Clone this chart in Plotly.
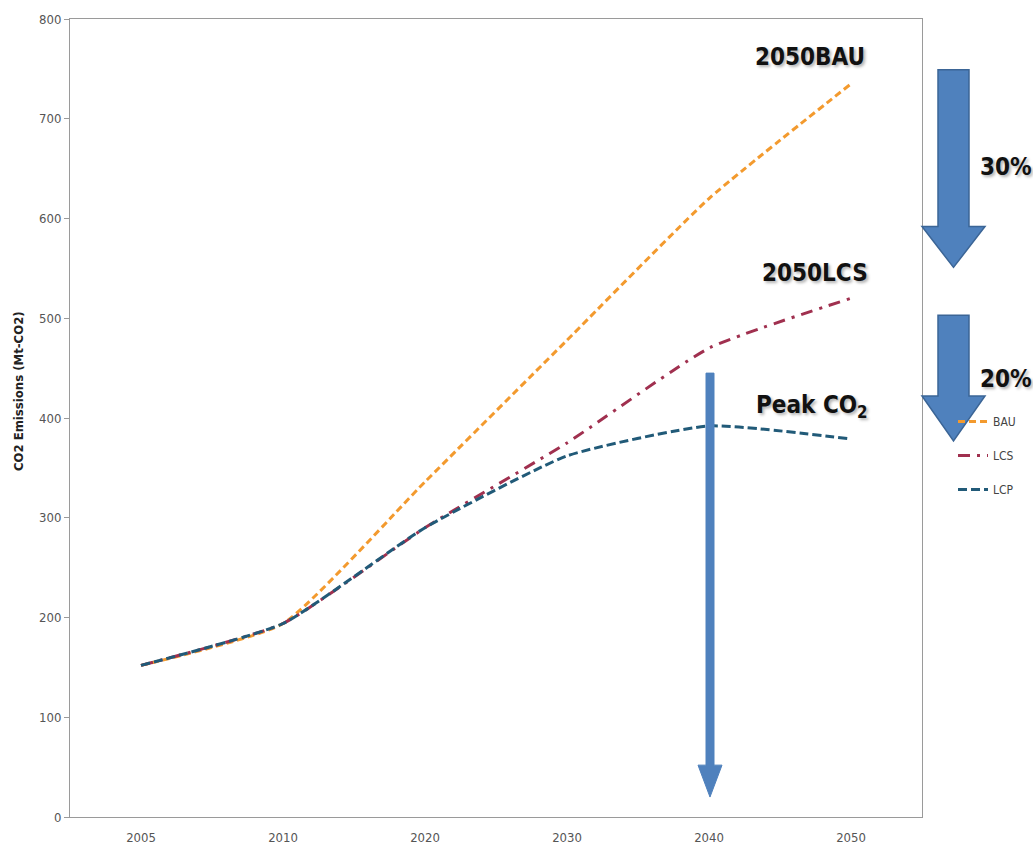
import plotly.graph_objects as go

# Emission pathways (Mt-CO2)
years = ["2005", "2010", "2020", "2030", "2040", "2050"]
bau = [152, 194, 336, 478, 620, 735]
lcs = [152, 194, 290, 375, 470, 520]
lcp = [152, 194, 290, 362, 392, 379]

W, H = 1033, 857
L, R, T, B = 70, 111, 17, 40
PW, PH = W - L - R, H - T - B


def xp(px):
    return (px - L) / PW


def yp(py):
    return (H - B - py) / PH


def path(points):
    return "M " + " L ".join(f"{xp(x):.5f},{yp(y):.5f}" for x, y in points) + " Z"


fig = go.Figure()
series = [
    ("BAU", bau, "#F39A2E", "7px,4px"),
    ("LCS", lcs, "#A0304F", "12px,7px,3px,7px"),
    ("LCP", lcp, "#215A78", "9px,4px"),
]
for name, vals, col, dash in series:
    fig.add_trace(go.Scatter(
        x=years, y=vals, name=name, mode="lines",
        line=dict(color=col, width=3, dash=dash, shape="spline", smoothing=0.5),
        legendgroup=name,
    ))

blue = "#4F81BD"
edge = "#3B6596"


def block_arrow(top, head_top, tip):
    return path([(938, top), (969, top), (969, head_top), (985, head_top),
                 (953.5, tip), (922, head_top), (938, head_top)])


shapes = [
    dict(type="path", xref="paper", yref="paper", path=block_arrow(68, 225, 266),
         fillcolor=blue, line=dict(color=edge, width=1.5)),
    dict(type="path", xref="paper", yref="paper", path=block_arrow(314, 395, 440),
         fillcolor=blue, line=dict(color=edge, width=1.5)),
    dict(type="path", xref="paper", yref="paper",
         path=path([(706, 372), (714, 372), (714, 765), (722, 765), (710, 797),
                    (698, 765), (706, 765)]),
         fillcolor=blue, line=dict(color=blue, width=1)),
]

label_font = dict(family="DejaVu Sans Condensed, Liberation Sans Narrow, Liberation Sans, sans-serif",
                  size=24, color="#111111", weight="bold",
                  shadow="2px 2px 3px rgba(0,0,0,0.3)")
notes = [
    ("2050BAU", 810, 55),
    ("2050LCS", 815, 272),
    ("Peak CO<sub>2</sub>", 812, 405),
    ("30%", 1006, 165),
    ("20%", 1006, 378),
]
annotations = [
    dict(text=t, x=xp(x), y=yp(y), xref="paper", yref="paper", showarrow=False,
         xanchor="center", yanchor="middle", font=label_font)
    for t, x, y in notes
]
annotations.append(dict(
    text="<b>CO2 Emissions (Mt-CO2)</b>", textangle=-90, x=xp(18), y=yp(390),
    xref="paper", yref="paper", showarrow=False, xanchor="center", yanchor="middle",
    font=dict(family="DejaVu Sans Condensed, Liberation Sans, sans-serif", size=13,
              color="#222222"),
))

tick_font = dict(family="DejaVu Sans Condensed, Liberation Sans Narrow, Liberation Sans, sans-serif",
                 size=13, color="#555555")

fig.update_layout(
    width=W, height=H,
    margin=dict(l=L, r=R, t=T, b=B),
    paper_bgcolor="white", plot_bgcolor="white",
    shapes=shapes, annotations=annotations,
    showlegend=True,
    legend=dict(x=xp(953), y=yp(406), xanchor="left", yanchor="top",
                bgcolor="rgba(0,0,0,0)", traceorder="grouped", tracegroupgap=15,
                font=dict(family="DejaVu Sans Condensed, Liberation Sans Narrow, Liberation Sans, sans-serif",
                          size=12, color="#444444")),
    xaxis=dict(type="category", range=[-0.5, 5.5], showgrid=False, showline=True,
               linecolor="#9a9a9a", linewidth=1, mirror=True, ticks="",
               tickfont=tick_font, ticklabelstandoff=8),
    yaxis=dict(range=[0, 800], dtick=100, showgrid=False, showline=True,
               linecolor="#9a9a9a", linewidth=1, mirror=True, ticks="outside",
               ticklen=5, tickcolor="#9a9a9a", tickfont=tick_font, zeroline=False),
)

fig.write_html("out.html")
